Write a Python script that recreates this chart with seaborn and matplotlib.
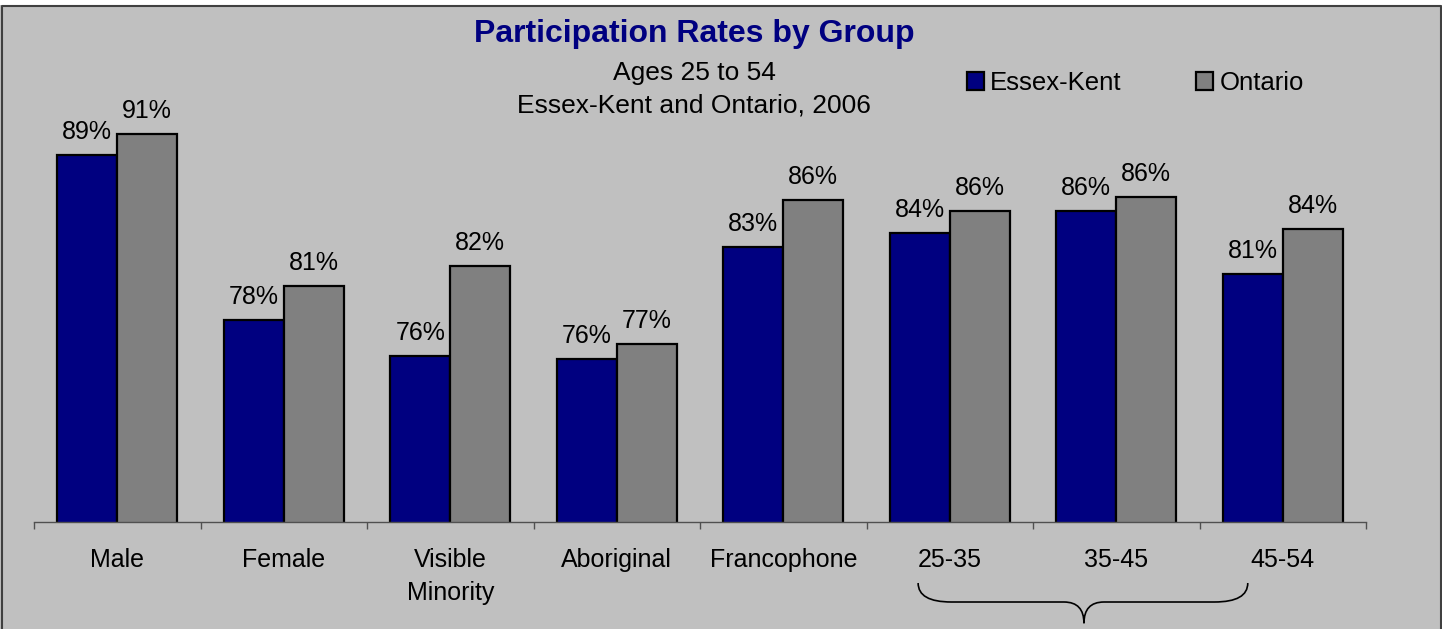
import numpy as np
import pandas as pd
import seaborn as sns
import matplotlib.pyplot as plt
from matplotlib.path import Path
from matplotlib.patches import PathPatch, Rectangle
from matplotlib.transforms import blended_transform_factory

# data
groups = ["Male", "Female", "Visible\nMinority", "Aboriginal", "Francophone",
          "25-35", "35-45", "45-54"]
essex_kent = [89.3, 78.3, 75.9, 75.7, 83.2, 84.1, 85.6, 81.4]
ontario = [90.7, 80.6, 81.9, 76.7, 86.3, 85.6, 86.5, 84.4]
regions = ["Essex-Kent", "Ontario"]

BG = "#C0C0C0"
NAVY = "#000080"
GRAY = "#808080"

sns.set_theme(style="white")
plt.rcParams["font.family"] = ["Liberation Sans", "DejaVu Sans"]

df = pd.DataFrame({
    "group": groups * 2,
    "rate": essex_kent + ontario,
    "region": [regions[0]] * len(groups) + [regions[1]] * len(groups),
})

W, H = 1442, 629
fig = plt.figure(figsize=(W / 100, H / 100), dpi=100, facecolor=BG)
# axes placed in pixel terms: left 34, right 1366, baseline y=522, top y=70
ax = fig.add_axes([34 / W, (H - 522) / H, 1332 / W, 452 / H])
ax.set_facecolor(BG)

sns.barplot(data=df, x="group", y="rate", hue="region", order=groups,
            hue_order=regions, palette=[NAVY, GRAY], edgecolor="black",
            linewidth=1.6, width=0.72, gap=0, saturation=1, ax=ax)

ax.set_ylim(64.85, 95)
ax.set_xlim(-0.5, len(groups) - 0.5)

for cont, vals in zip(ax.containers, [essex_kent, ontario]):
    ax.bar_label(cont, labels=[f"{v:.0f}%" for v in vals], padding=8,
                 fontsize=18, color="black")

# axis styling
for side in ["left", "top", "right"]:
    ax.spines[side].set_visible(False)
ax.spines["bottom"].set_color("#505050")
ax.spines["bottom"].set_linewidth(1)
ax.set_yticks([])
ax.set_xlabel("")
ax.set_ylabel("")
ax.set_xticks(range(len(groups)))
ax.set_xticklabels(groups, fontsize=18, color="black", linespacing=1.45)
ax.set_xticks(np.arange(-0.5, len(groups)), minor=True)
ax.tick_params(axis="x", which="major", length=0, pad=19)
ax.tick_params(axis="x", which="minor", length=5, width=1, color="#505050",
               direction="out", bottom=True)

# legend
handles, labels = ax.get_legend_handles_labels()
ax.legend(handles, labels, loc="center left",
          bbox_to_anchor=(967 / W, 1 - 83 / H), bbox_transform=fig.transFigure,
          ncol=2, frameon=False, fontsize=18.5, labelcolor="black",
          handlelength=0.65, handleheight=0.65, handletextpad=0.25,
          columnspacing=2.9, borderpad=0, borderaxespad=0)

# titles
fig.text(694 / W, 1 - 34 / H, "Participation Rates by Group", ha="center",
         va="center", fontsize=23, fontweight="bold", color=NAVY)
fig.text(694 / W, 1 - 73 / H, "Ages 25 to 54", ha="center", va="center",
         fontsize=19, color="black")
fig.text(694 / W, 1 - 105 / H, "Essex-Kent and Ontario, 2006", ha="center",
         va="center", fontsize=19, color="black")

# brace under the age groups
bt = blended_transform_factory(ax.transData, ax.transAxes)
x0, xc, x1 = 4.81, 5.806, 6.79
y_top, y_mid, y_tip = -0.135, -0.177, -0.224
d_end, d_tip = 0.2, 0.12
verts = [(x0, y_top), (x0, y_mid), (x0 + d_end, y_mid),
         (xc - d_tip, y_mid), (xc, y_mid), (xc, y_tip),
         (xc, y_mid), (xc + d_tip, y_mid),
         (x1 - d_end, y_mid), (x1, y_mid), (x1, y_top)]
codes = [Path.MOVETO, Path.CURVE3, Path.CURVE3,
         Path.LINETO, Path.CURVE3, Path.CURVE3,
         Path.CURVE3, Path.CURVE3,
         Path.LINETO, Path.CURVE3, Path.CURVE3]
ax.add_patch(PathPatch(Path(verts, codes), transform=bt, fill=False,
                       edgecolor="black", linewidth=1.2, clip_on=False))

# white strip at top and dark frame on left, top, right
fig.patches.append(Rectangle((0, 1 - 5 / H), 1, 5 / H, transform=fig.transFigure,
                             facecolor="white", edgecolor="none", zorder=-1))
fig.add_artist(plt.Line2D([1.5 / W, 1.5 / W, 1 - 1.5 / W, 1 - 1.5 / W],
                          [0, 1 - 5.5 / H, 1 - 5.5 / H, 0],
                          transform=fig.transFigure, color="#404040", lw=1.5))

fig.savefig("out.png", dpi=100, facecolor=BG)
